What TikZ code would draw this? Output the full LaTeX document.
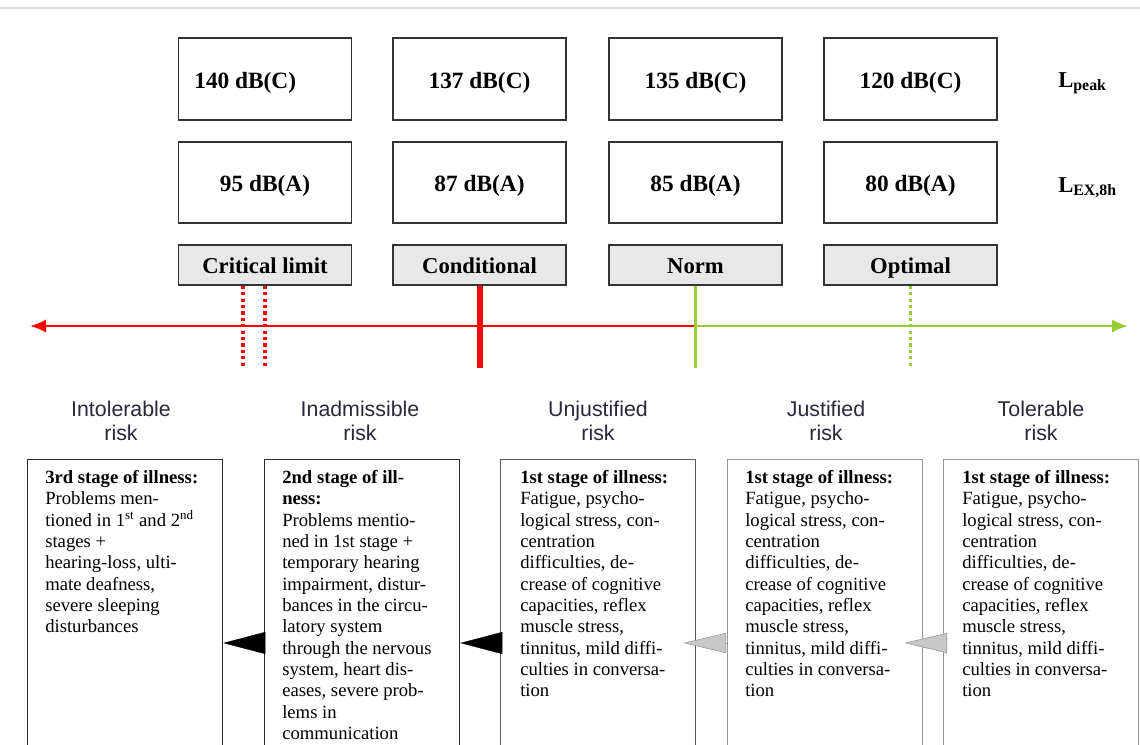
\documentclass[tikz,border=0pt]{standalone}
\usepackage{fontspec}
\setmainfont{Liberation Serif}
\setsansfont{Liberation Sans}
\usetikzlibrary{arrows.meta,calc}

\tikzset{
  valbox/.style={draw={rgb, 255:red, 51; green, 51; blue, 51}, line width=1.2pt, minimum width=129.75pt, text height=18pt, text depth=4pt, font=\fontsize{17.5}{20}\selectfont\bfseries},
  statbox/.style={draw={rgb, 255:red, 51; green, 51; blue, 51}, line width=1.2pt, minimum width=129.75pt, fill={rgb, 255:red, 232; green, 232; blue, 232}, minimum height=30pt, text height=17pt, text depth=4pt, font=\fontsize{17}{20}\selectfont\bfseries},
  levlabel/.style={anchor=west, inner sep=0.75pt, font=\fontsize{17}{20}\selectfont\bfseries},
  risklabel/.style={align=center, inner sep=0.75pt, text={rgb, 255:red, 40; green, 40; blue, 60}, font=\sffamily\fontsize{16}{18}\selectfont},
  stagebox/.style={draw, anchor=north west, line width=1pt, minimum width=146.25pt, minimum height=225pt, inner sep=0pt},
  stagetext/.style={anchor=north west, align=left, inner sep=0pt, font=\fontsize{14}{16}\selectfont},
  redaxis/.style={draw={rgb, 255:red, 255; green, 0; blue, 0}, line width=2pt, -{Latex[length=12pt,width=10pt]}},
  greenaxis/.style={draw={rgb, 255:red, 153; green, 204; blue, 51}, line width=2pt, -{Latex[length=12pt,width=10pt]}},
  reddotted/.style={draw={rgb, 255:red, 255; green, 0; blue, 0}, line width=2.6pt, dash pattern=on 2.4pt off 2.4pt},
  greendotted/.style={draw={rgb, 255:red, 153; green, 204; blue, 51}, line width=2.6pt, dash pattern=on 2.4pt off 2.4pt},
  blacktip/.style={line width=0.2pt, -{Triangle[length=31.5pt,width=16.5pt]}},
  graytip/.style={draw={rgb, 255:red, 150; green, 150; blue, 150}, line width=0.4pt, -{Triangle[length=32pt,width=15pt,fill={rgb, 255:red, 200; green, 200; blue, 200}]}}
}

\begin{document}
\begin{tikzpicture}[x=0.75pt,y=0.75pt,yscale=-1,xscale=1]
\useasboundingbox (0,0) rectangle (1140,744);
\clip (0,0) rectangle (1140,744);

%Straight Lines (top rule)
\draw [color={rgb, 255:red, 220; green, 220; blue, 220}, line width=1.5pt] (0,8) -- (1140,8);

%Shape: Rectangle (peak levels)
\node [valbox, minimum height=61.5pt] (p1) at (265,79) {\makebox[106pt][l]{140 dB(C)}};
\node [valbox, minimum height=61.5pt] (p2) at (479.5,79) {137 dB(C)};
\node [valbox, minimum height=61.5pt] (p3) at (695.5,79) {135 dB(C)};
\node [valbox, minimum height=61.5pt] (p4) at (910.5,79) {120 dB(C)};

%Shape: Rectangle (exposure levels)
\node [valbox, minimum height=60.75pt] (a1) at (265,182.5) {95 dB(A)};
\node [valbox, minimum height=60.75pt] (a2) at (479.5,182.5) {87 dB(A)};
\node [valbox, minimum height=60.75pt] (a3) at (695.5,182.5) {85 dB(A)};
\node [valbox, minimum height=60.75pt] (a4) at (910.5,182.5) {80 dB(A)};

%Shape: Rectangle (limits)
\node [statbox] (s1) at (265,265) {Critical limit};
\node [statbox] (s2) at (479.5,265) {Conditional};
\node [statbox] (s3) at (695.5,265) {Norm};
\node [statbox] (s4) at (910.5,265) {Optimal};

% Text Node
\node [levlabel] (lpeak) at (1057,83) {L\textsubscript{peak}};
% Text Node
\node [levlabel] (lex) at (1057,188) {L\textsubscript{EX,8h}};

%Straight Lines (axis)
\coordinate (axl) at (30,326);
\coordinate (axr) at (1128,326);
\coordinate (tk) at (0,368);
\coordinate (c1) at (243,368);
\coordinate (c2) at (265,368);
\draw [redaxis] (s3.south |- axl) -- (axl);
\draw [greenaxis] (s3.south |- axr) -- (axr);

%Straight Lines (ticks)
\draw [reddotted] (s1.south -| c1) -- (c1);
\draw [reddotted] (s1.south -| c2) -- (c2);
\draw [draw={rgb, 255:red, 255; green, 0; blue, 0}, line width=4.5pt] (s2.south) -- (s2.south |- tk);
\draw [draw={rgb, 255:red, 153; green, 204; blue, 51}, line width=2.2pt] (s3.south) -- (s3.south |- tk);
\draw [greendotted] (s4.south) -- (s4.south |- tk);

% Text Node
\node [risklabel] (k1) at (121,421) {Intolerable\\risk};
\node [risklabel] (k2) at (360,421) {Inadmissible\\risk};
\node [risklabel] (k3) at (598,421) {Unjustified\\risk};
\node [risklabel] (k4) at (826,421) {Justified\\risk};
\node [risklabel] (k5) at (1041,421) {Tolerable\\risk};

%Shape: Rectangle (stages)
\node [stagebox, draw={rgb, 255:red, 40; green, 40; blue, 40}] (r1) at (27,459) {};
\node [stagebox, draw={rgb, 255:red, 40; green, 40; blue, 40}] (r2) at (264,459) {};
\node [stagebox, draw={rgb, 255:red, 90; green, 90; blue, 90}] (r3) at (500,459) {};
\node [stagebox, draw={rgb, 255:red, 150; green, 150; blue, 150}] (r4) at (727,459) {};
\node [stagebox, draw={rgb, 255:red, 150; green, 150; blue, 150}] (r5) at (943,459) {};

% Text Node
\node [stagetext] (t1) at ($(r1.north west)+(18,11)$) {\textbf{3rd stage of illness:}\\Problems men-\\tioned in 1\textsuperscript{st} and 2\textsuperscript{nd}\\stages +\\hearing-loss, ulti-\\mate deafness,\\severe sleeping\\disturbances};
% Text Node
\node [stagetext] (t2) at ($(r2.north west)+(18,11)$) {\textbf{2nd stage of ill-}\\\textbf{ness:}\\Problems mentio-\\ned in 1st stage +\\temporary hearing\\impairment, distur-\\bances in the circu-\\latory system\\through the nervous\\system, heart dis-\\eases, severe prob-\\lems in\\communication};
% Text Node
\node [stagetext] (t3) at ($(r3.north west)+(20,11)$) {\textbf{1st stage of illness:}\\Fatigue, psycho-\\logical stress, con-\\centration\\difficulties, de-\\crease of cognitive\\capacities, reflex\\muscle stress,\\tinnitus, mild diffi-\\culties in conversa-\\tion};
% Text Node
\node [stagetext] (t4) at ($(r4.north west)+(18,11)$) {\textbf{1st stage of illness:}\\Fatigue, psycho-\\logical stress, con-\\centration\\difficulties, de-\\crease of cognitive\\capacities, reflex\\muscle stress,\\tinnitus, mild diffi-\\culties in conversa-\\tion};
% Text Node
\node [stagetext] (t5) at ($(r5.north west)+(19,11)$) {\textbf{1st stage of illness:}\\Fatigue, psycho-\\logical stress, con-\\centration\\difficulties, de-\\crease of cognitive\\capacities, reflex\\muscle stress,\\tinnitus, mild diffi-\\culties in conversa-\\tion};

%Arrows (stage to stage)
\coordinate (arr) at (0,643);
\draw [blacktip] (r2.west |- arr) -- (r1.east |- arr);
\draw [blacktip] (r3.west |- arr) -- (r2.east |- arr);
\draw [graytip] (r4.west |- arr) -- ($(r3.east |- arr)+(-13,0)$);
\draw [graytip] (r5.west |- arr) -- ($(r4.east |- arr)+(-19,0)$);

\end{tikzpicture}
\end{document}
